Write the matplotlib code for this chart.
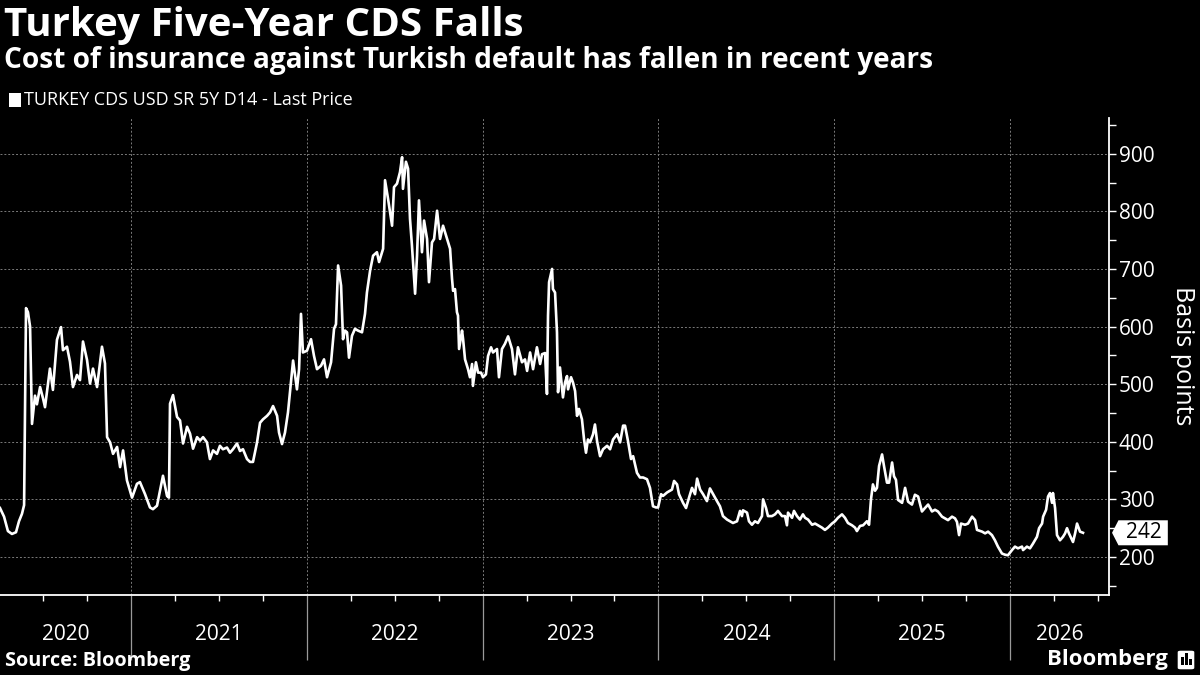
import matplotlib
matplotlib.use("Agg")
import matplotlib.pyplot as plt
from matplotlib.patches import Polygon, Rectangle, FancyBboxPatch

plt.rcParams["font.family"] = ["Open Sans", "DejaVu Sans"]

title = "Turkey Five-Year CDS Falls"
subtitle = "Cost of insurance against Turkish default has fallen in recent years"
series_name = "TURKEY CDS USD SR 5Y D14 - Last Price"
source = "Source: Bloomberg"

# decimal year / basis points
years = [
    2020.255, 2020.278, 2020.300, 2020.323, 2020.346, 2020.363, 2020.380, 2020.392, 2020.403, 2020.414,
    2020.426, 2020.437, 2020.454, 2020.465, 2020.483, 2020.500, 2020.511, 2020.539, 2020.556, 2020.579,
    2020.602, 2020.613, 2020.636, 2020.653, 2020.670, 2020.693, 2020.710, 2020.727, 2020.750, 2020.767,
    2020.784, 2020.807, 2020.835, 2020.852, 2020.864, 2020.881, 2020.898, 2020.921, 2020.938, 2020.955,
    2020.977, 2021.006, 2021.034, 2021.051, 2021.080, 2021.108, 2021.125, 2021.148, 2021.165, 2021.182,
    2021.205, 2021.216, 2021.222, 2021.239, 2021.262, 2021.279, 2021.296, 2021.319, 2021.336, 2021.353,
    2021.376, 2021.393, 2021.410, 2021.432, 2021.449, 2021.467, 2021.489,
    2021.506, 2021.523, 2021.546, 2021.563, 2021.580, 2021.603, 2021.620, 2021.637, 2021.660, 2021.677,
    2021.694, 2021.717, 2021.734, 2021.751, 2021.774, 2021.791, 2021.808, 2021.831, 2021.842, 2021.859,
    2021.876, 2021.893, 2021.910, 2021.922, 2021.944, 2021.956, 2021.967, 2021.978, 2022.001, 2022.024,
    2022.041, 2022.058, 2022.081, 2022.098, 2022.115, 2022.138, 2022.155, 2022.166, 2022.178, 2022.195,
    2022.206, 2022.217, 2022.229, 2022.240, 2022.257, 2022.274, 2022.291, 2022.314, 2022.331, 2022.342,
    2022.360, 2022.377, 2022.399, 2022.411, 2022.434, 2022.445, 2022.462, 2022.485, 2022.496, 2022.513,
    2022.530, 2022.542, 2022.547, 2022.564, 2022.576, 2022.587, 2022.598, 2022.616, 2022.627, 2022.638,
    2022.655, 2022.667, 2022.684, 2022.695, 2022.712, 2022.724, 2022.741, 2022.758, 2022.775, 2022.798,
    2022.815, 2022.826, 2022.832, 2022.843, 2022.854, 2022.860, 2022.866, 2022.883, 2022.889, 2022.900,
    2022.917, 2022.928, 2022.940, 2022.945, 2022.962, 2022.974, 2022.991, 2023.002, 2023.019, 2023.031,
    2023.048, 2023.059, 2023.082, 2023.093, 2023.110, 2023.127, 2023.145, 2023.167, 2023.184, 2023.201,
    2023.224, 2023.241, 2023.253, 2023.270, 2023.287, 2023.309, 2023.327, 2023.338, 2023.355, 2023.366,
    2023.372, 2023.378, 2023.395, 2023.400, 2023.412, 2023.423, 2023.429, 2023.440, 2023.457, 2023.469,
    2023.480, 2023.486, 2023.503, 2023.514, 2023.526, 2023.537, 2023.548, 2023.565, 2023.577, 2023.588,
    2023.599, 2023.611, 2023.628, 2023.639, 2023.651, 2023.668, 2023.685, 2023.708, 2023.725, 2023.742,
    2023.765, 2023.782, 2023.799, 2023.810, 2023.827, 2023.844, 2023.856, 2023.878, 2023.895, 2023.913,
    2023.935, 2023.952, 2023.969, 2023.986, 2023.998, 2024.015, 2024.026, 2024.049,
    2024.077, 2024.089, 2024.106, 2024.117, 2024.140, 2024.157, 2024.174, 2024.191, 2024.208, 2024.220,
    2024.237, 2024.254, 2024.276, 2024.293, 2024.311, 2024.333, 2024.350, 2024.367, 2024.390, 2024.407,
    2024.424, 2024.447, 2024.464, 2024.475, 2024.481, 2024.504, 2024.515, 2024.532, 2024.549, 2024.566,
    2024.589, 2024.595, 2024.612, 2024.623, 2024.646, 2024.663, 2024.680, 2024.703, 2024.720, 2024.731,
    2024.737, 2024.760, 2024.771, 2024.788, 2024.805, 2024.822, 2024.834, 2024.851, 2024.874, 2024.891,
    2024.908, 2024.930, 2024.947, 2024.964, 2024.987, 2025.004, 2025.021, 2025.044, 2025.061, 2025.078,
    2025.101, 2025.118, 2025.129, 2025.147, 2025.164, 2025.186, 2025.198, 2025.209, 2025.220, 2025.232,
    2025.243,
    2025.255, 2025.272, 2025.283, 2025.300, 2025.312, 2025.329, 2025.340, 2025.351, 2025.363, 2025.386,
    2025.403, 2025.420, 2025.442, 2025.459, 2025.477, 2025.499, 2025.516, 2025.534, 2025.556, 2025.573,
    2025.590, 2025.613, 2025.630, 2025.647, 2025.670, 2025.687, 2025.698, 2025.710, 2025.721, 2025.744,
    2025.761, 2025.784, 2025.801, 2025.812, 2025.841, 2025.858, 2025.875, 2025.897, 2025.914, 2025.931,
    2025.954, 2025.971, 2025.988, 2026.011, 2026.028, 2026.045, 2026.068, 2026.074, 2026.096, 2026.113,
    2026.130, 2026.153, 2026.165, 2026.182, 2026.188, 2026.205, 2026.216, 2026.227, 2026.239, 2026.244,
    2026.256, 2026.267, 2026.284, 2026.301, 2026.313, 2026.324, 2026.335, 2026.358, 2026.370, 2026.381,
    2026.398, 2026.415,
]
bps = [
    285, 270, 245, 240, 243, 262, 275, 290, 632, 625,
    600, 431, 480, 465, 495, 475, 460, 527, 490, 577,
    599, 559, 565, 539, 495, 516, 507, 574, 542, 501,
    527, 495, 565, 536, 408, 399, 379, 391, 356, 385,
    333, 303, 327, 330, 309, 286, 283, 289, 315, 341,
    306, 303, 466, 481, 443, 437, 397, 426, 414, 388,
    408, 402, 408, 399, 370, 385, 379,
    393, 387, 390, 381, 387, 397, 384, 387, 370, 365,
    365, 399, 433, 439, 445, 451, 462, 445, 416, 396,
    416, 451, 503, 541, 491, 526, 622, 555, 558, 578,
    549, 526, 532, 543, 512, 538, 596, 604, 706, 671,
    578, 593, 590, 546, 584, 596, 593, 590, 622, 659,
    697, 723, 729, 712, 735, 854, 822, 775, 842, 848,
    868, 894, 839, 886, 874, 787, 741, 657, 723, 819,
    729, 784, 752, 677, 746, 752, 801, 752, 775, 752,
    735, 683, 662, 665, 625, 619, 561, 593, 578, 543,
    526, 512, 535, 497, 538, 520, 520, 512, 517, 549,
    564, 555, 561, 512, 561, 570, 583, 561, 517, 564,
    538, 543, 523, 555, 526, 564, 535, 552, 554, 483,
    619, 677, 700, 665, 659, 590, 486, 529, 477, 503,
    514, 491, 512, 503, 488, 445, 457, 439, 404, 381,
    404, 399, 413, 430, 401, 375, 387, 393, 387, 404,
    413, 399, 428, 428, 401, 370, 375, 346, 338, 338,
    335, 320, 288, 286, 286, 309, 306, 312,
    317, 332, 326, 309, 294, 285, 303, 320, 309, 336,
    317, 309, 297, 319, 309, 297, 288, 271, 265, 262,
    259, 262, 280, 271, 281, 277, 262, 256, 262, 259,
    271, 300, 285, 271, 271, 274, 280, 271, 271, 255,
    277, 268, 280, 271, 265, 274, 268, 265, 256, 258,
    255, 251, 247, 251, 258, 262, 268, 274, 268, 259,
    255, 251, 245, 254, 255, 262, 256, 300, 326, 315,
    320,
    358, 378, 358, 329, 329, 364, 340, 334, 299, 294,
    320, 296, 291, 308, 305, 279, 285, 291, 279, 282,
    279, 270, 267, 264, 270, 267, 261, 238, 258, 256,
    258, 270, 264, 247, 244, 241, 244, 238, 229, 218,
    206, 204, 203, 212, 218, 215, 218, 212, 218, 215,
    223, 235, 250, 258, 270, 282, 305, 311, 294, 311,
    285, 238, 229, 235, 241, 250, 241, 226, 241, 258,
    244, 242,
]

year_bounds = [2021, 2022, 2023, 2024, 2025, 2026]
year_labels = ["2020", "2021", "2022", "2023", "2024", "2025", "2026"]
y_ticks = [200, 300, 400, 500, 600, 700, 800, 900]
y_minor = [150, 250, 350, 450, 550, 650, 750, 850, 950]

x_min, x_max = 2020.255, 2026.563
y_min, y_max = 134, 962

fig = plt.figure(figsize=(12, 6.75), dpi=100, facecolor="black")
ax = fig.add_axes([0.0, 0.1185, 0.9242, 0.7067])
ax.set_facecolor("black")

ax.plot(years, bps, color="white", lw=1.9, solid_joinstyle="round")

ax.set_xlim(x_min, x_max)
ax.set_ylim(y_min, y_max)

for side in ["left", "top"]:
    ax.spines[side].set_visible(False)
for side in ["right", "bottom"]:
    ax.spines[side].set_color("white")
    ax.spines[side].set_linewidth(1.3)

# y axis on the right
ax.yaxis.tick_right()
ax.set_yticks(y_ticks)
ax.set_yticks(y_minor, minor=True)
ax.tick_params(axis="y", which="both", colors="white", length=5, width=1,
               labelsize=15, pad=2)

# x axis: long separators at year boundaries, quarter ticks in between
quarters = [y + q for y in range(2020, 2027) for q in (0.25, 0.5, 0.75)
            if x_min < y + q < x_max]
ax.set_xticks(year_bounds)
ax.set_xticklabels([])
ax.set_xticks(quarters, minor=True)
ax.tick_params(axis="x", which="major", length=47, width=0.9, colors="#9a9a9a")
ax.tick_params(axis="x", which="minor", length=4, width=1, colors="white")

edges = [x_min] + year_bounds + [x_max]
for i, lab in enumerate(year_labels):
    mid = (edges[i] + edges[i + 1]) / 2
    ax.text(mid, -0.082, lab, transform=ax.get_xaxis_transform(), ha="center",
            va="center", color="white", fontsize=15)

ax.grid(True, which="major", color="#7a7a7a", linestyle=(0, (2, 2)), linewidth=0.7)

# last value tag
last = bps[-1]
tr = ax.get_yaxis_transform()
h = 12.5 / (477 / (y_max - y_min))
tag = Polygon([[1.0027, last], [1.0085, last + h], [1.053, last + h],
               [1.053, last - h], [1.0085, last - h]], closed=True,
              transform=tr, facecolor="white", edgecolor="none", clip_on=False)
ax.add_patch(tag)
ax.text(1.031, last, f"{last:.0f}", transform=tr, ha="center", va="center",
        color="black", fontsize=15, clip_on=False)

fig.text(1183 / 1200, 1 - 356 / 675, "Basis points", rotation=270, ha="center",
         va="center", color="white", fontsize=18)

# titles and legend
fig.text(4 / 1200, 1 - 36 / 675, title, fontsize=29, fontweight="bold",
         color="white", va="baseline")
fig.text(4 / 1200, 1 - 68 / 675, subtitle, fontsize=20.2, fontweight="bold",
         color="white", va="baseline")
fig.patches.append(Rectangle((9 / 1200, 1 - 107 / 675), 12 / 1200, 14 / 675,
                             transform=fig.transFigure, facecolor="white"))
fig.text(24 / 1200, 1 - 100 / 675, series_name, fontsize=13, color="white",
         va="center")

fig.text(5 / 1200, 1 - 661 / 675, source, fontsize=14.3, fontweight="bold",
         color="white", va="center")
fig.text(1168 / 1200, 1 - 660 / 675, "Bloomberg", fontsize=16, fontweight="bold",
         color="white", va="center", ha="right")
fig.patches.append(FancyBboxPatch((1177 / 1200, 1 - 670 / 675), 18 / 1200, 20 / 675,
                                  boxstyle="round,pad=0,rounding_size=0.003",
                                  transform=fig.transFigure, facecolor="white"))
for bx, bh in [(1181, 8), (1185, 12), (1189, 6)]:
    fig.patches.append(Rectangle((bx / 1200, 1 - 665 / 675), 2.5 / 1200, bh / 675,
                                 transform=fig.transFigure, facecolor="black"))

fig.savefig("out.png", dpi=100, facecolor="black")
